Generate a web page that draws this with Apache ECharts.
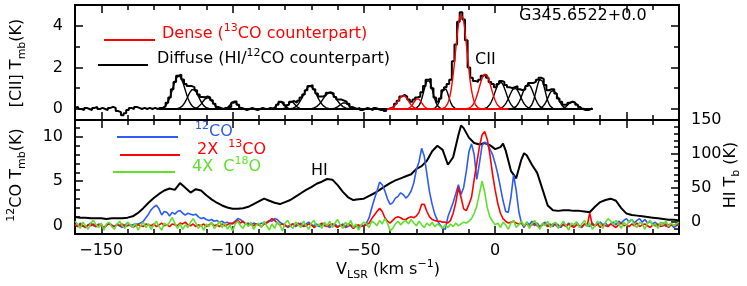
<!DOCTYPE html>
<html><head><meta charset="utf-8">
<script src="https://cdn.jsdelivr.net/npm/echarts@6/dist/echarts.min.js"></script>
<style>html,body{margin:0;padding:0;background:#fff}#c{width:747px;height:286px}</style>
</head><body><div id="c"></div>
<script>
// ---------- DATA ----------
// channel grid (km/s) for the sampled spectra
const channelStart = -160;
const channelWidth = 1;

// [CII] observed spectrum, Tmb (K), channels from -160 km/s
const ciiObserved = [
 0.05,0.1,0.0,-0.05,0.05,0.0,-0.05,0.05,0.1,0.0,0.05,0.0,-0.05,0.05,0.1,0.05,-0.1,-0.15,-0.3,-0.2,-0.05,0.05,0.0,0.1,0.05,0.0,0.05,0.0,0.05,0.0,0.05,0.0,0.05,
 0.05,0.12,0.3,0.55,0.95,1.3,1.6,1.65,1.42,1.2,1.1,1.1,1.05,0.9,0.7,0.58,0.56,0.6,0.55,0.42,0.25,0.1,0.05,
 0.0,0.05,0.0,0.1,0.3,0.38,0.2,0.05,0.0,-0.05,0.0,0.05,0.0,-0.05,0.0,0.05,0.0,0.0,0.05,0.0,
 0.08,0.2,0.35,0.3,0.18,0.2,0.35,0.38,0.3,0.4,0.55,0.7,0.9,1.1,1.15,0.95,0.75,0.6,0.6,0.68,0.78,0.8,0.75,0.58,0.45,0.45,0.4,0.35,0.25,0.1,0.05,0.0,0.05,-0.05,0.0,0.05,0.0,-0.05,0.05,0.0,-0.05,0.0,-0.1,0.0,
 0.05,0.1,0.25,0.4,0.6,0.68,0.6,0.45,0.35,0.45,0.55,0.6,0.8,1.1,1.4,1.45,1.0,0.55,0.35,0.5,0.9,1.05,1.2,1.4,2.3,3.1,4.2,4.65,4.3,3.3,2.0,
 1.5,1.35,1.3,1.4,1.6,1.65,1.5,1.3,1.2,1.05,1.2,1.35,1.3,1.15,1.05,1.0,1.05,1.1,
 0.95,0.9,0.95,1.1,1.25,1.25,1.3,1.4,1.5,1.45,1.15,0.9,0.95,0.95,0.75,0.5,0.35,0.2,0.2,0.3,0.35,0.3,0.2,0.1,0.0,-0.05,-0.05,0.0,0.05
];

// [CII] Gaussian fit components: centre (km/s), peak (K), FWHM (km/s)
const diffuseCentre = [-120.5,-115,-109.5,-99.5,-81.8,-77.5,-70.5,-63,-57.5,-25.5,-19.2,2,7.5,12.5,17.3,22,29.5];
const diffusePeak   = [1.6,0.95,0.55,0.38,0.35,0.35,1.1,0.78,0.3,1.4,1.0,1.3,1.0,1.2,1.45,0.9,0.35];
const diffuseFwhm   = [5.5,5,4.5,3,3,3,6,6,4,4,3.5,5,5,5,4,4.5,4];
const denseCentre = [-35,-29.5,-12.9,-3.8];
const densePeak   = [0.65,0.5,4.6,1.7];
const denseFwhm   = [4.5,3.5,5.1,5.3];

// 12CO Tmb (K), channels from -160 km/s
const co12 = [
 0.2,-0.1,0.3,0.0,-0.2,0.1,0.3,0.0,-0.1,0.2,0.1,-0.2,0.0,0.3,0.1,-0.1,0.2,0.0,-0.2,0.1,0.3,0.0,0.1,0.2,
 0.2,0.3,0.5,0.9,1.3,1.8,2.1,2.3,1.9,1.2, 1.6,1.5,1.1,1.5,1.3,1.6,1.7,1.4,1.2,1.4, 1.3,1.2,1.3,1.0,0.8,0.9,0.7,0.6,0.7,0.5,
 0.6,0.4,0.5,0.3,0.4,0.2,0.3,0.5,0.8,0.7, 0.4,0.2,0.3,0.1,0.3,0.2,0.1,0.3,0.2,0.4, 0.6,0.5,0.8,0.7,0.4,0.2,0.1,-0.2,0.0,0.2,
 -0.1,0.1,0.3,0.0,0.2,0.4,0.1,0.0,0.2,-0.1, 0.1,0.3,0.0,-0.2,0.1,0.2,-0.1,0.0,0.2,-0.2, -0.1,0.1,-0.3,0.0,-0.2,0.1,0.0,
 0.3,0.9,2.0,3.0,3.9,4.9,4.6,3.9,3.0,2.4,2.6,3.1,3.3,3.7,3.5,3.1,3.4,3.9,4.8,6.3,7.2,8.7,7.8,5.8,3.8,2.4,1.3,0.6,0.1,-0.3,
 -0.4,1.0,1.8,2.6,3.6,4.6,3.5,4.3,6.1,8.3,9.2,8.0,5.2,7.0,9.0,9.4,9.2,8.6,8.0,7.0,5.8,4.3,2.8,1.6,1.5,3.2,5.7,4.0,1.6,0.3,
 -0.2,0.4,0.1,0.5,0.0,0.3,-0.1,0.2,0.4,0.0, 0.2,-0.1,0.3,0.1,-0.2,0.2,0.0,0.3,-0.1,0.1, 0.4,0.0,-0.2,0.2,0.1,-0.1,0.3,0.0,0.2,0.4,
 0.1,0.3,0.0,0.2,0.4,0.1,0.5,0.3,0.6,0.8, 0.4,0.7,0.3,0.6,0.8,0.4,0.7,0.3,0.5,0.2, 0.4,0.0,0.2,0.3,-0.1,0.1,0.2,-0.2,0.0,0.1
];

// 2 x 13CO Tmb (K), channels from -160 km/s
const co13x2 = [
 0.1,-0.1,0.2,0.0,-0.2,0.1,0.0,0.2,-0.1,0.1,0.0,-0.2,0.1,0.2,0.0,-0.1,0.1,0.0,0.2,-0.1,0.0,0.1,-0.2,0.0,
 0.1,0.0,-0.1,0.2,0.1,0.0,0.2,-0.1,0.1,0.3, 0.0,0.1,-0.1,0.2,0.1,0.0,0.3,0.2,0.4,0.1, 0.0,0.2,-0.1,0.1,0.0,0.2,-0.1,0.1,0.3,0.0, 0.1,-0.1,0.2,0.0,0.1,0.3,0.2,
 0.4,0.6,0.3,0.5,0.2,0.1,0.3,0.0,0.2,0.1, -0.1,0.2,0.3,0.5,0.8,0.6,0.3,0.1,0.2,0.0, -0.1,0.1,0.2,0.0,0.3,0.1,-0.1,0.0,0.2,0.1,
 -0.2,0.0,0.1,0.3,0.0,-0.1,0.1,0.2,0.0,-0.2, 0.1,0.0,-0.1,0.2,0.0,-0.3,0.0,0.1,-0.1,0.0,
 0.1,0.3,0.8,1.2,1.6,1.95,1.6,0.9,0.5,0.3,0.6,0.9,1.0,0.9,0.7,0.7,0.9,1.0,0.9,1.1,1.5,2.4,2.4,1.6,1.0,0.7,0.6,0.5,0.5,0.4,
 0.4,0.3,0.6,1.4,2.6,4.3,3.2,1.9,1.7,2.4,3.2,5.2,7.0,8.9,10.2,10.6,9.7,8.0,5.8,4.0,2.5,1.4,0.8,0.5,0.3,0.4,0.5,0.3,0.2,0.3,
 0.0,0.2,-0.1,0.1,0.3,0.0,-0.2,0.1,0.2,-0.1, 0.0,0.2,0.1,-0.2,0.0,0.1,-0.1,0.2,0.0,-0.2, 0.1,0.0,-0.1,0.2,0.0,1.4,0.1,0.0,0.2,-0.2,
 0.1,0.0,-0.1,0.2,0.0,-0.2,0.1,0.3,0.0,0.1, -0.1,0.2,0.0,0.3,-0.1,0.1,0.2,0.0,-0.2,0.1, 0.0,0.2,-0.1,0.0,0.2,-0.2,0.1,0.0,0.2,0.1
];

// 4 x C18O Tmb (K), channels from -160 km/s
const c18ox4 = [
 0.5,0.2,-0.3,0.4,0.0,-0.4,0.3,0.6,0.1,-0.2, 0.3,-0.5,0.2,0.4,-0.1,-0.4,0.2,0.5,0.0,-0.3,
 0.4,0.1,-0.2,0.3,-0.5,0.0,0.4,-0.2,0.2,-0.4, 0.1,0.5,-0.1,-0.5,0.3,0.0,0.4,0.9,0.3,-0.3,
 0.2,-0.4,0.1,-0.2,0.4,0.8,0.3,-0.3,0.1,-0.5, 0.2,-0.1,0.4,-0.3,0.0,0.5,-0.2,0.3,-0.4,0.1,
 -0.6,0.2,0.5,0.0,-0.3,0.3,-0.1,0.4,-0.4,0.1, 0.3,-0.2,0.5,0.0,-0.5,0.2,-0.3,0.4,0.1,-0.6,
 0.3,0.6,0.0,-0.3,0.4,0.1,-0.2,0.5,0.0,-0.4, 0.3,0.6,-0.1,0.2,-0.3,0.4,0.0,0.5,-0.2,0.3,
 0.7,0.1,-0.3,0.4,0.0,0.6,-0.2,0.2,-0.5,0.1,0.4,
 0.2,-0.2,0.5,0.3,0.0,0.6,0.2,0.8,0.3,-0.6,-0.3,0.2,0.5,0.1,0.4,0.6,0.2,0.7,0.3,0.0,0.5,0.1,-0.2,0.3,0.0,0.4,-0.1,0.2,0.0,-0.3,
 0.1,-0.2,0.2,-0.1,0.3,0.0,0.2,0.4,0.3,0.5,0.8,1.4,2.2,3.6,5.0,3.8,2.0,1.0,0.5,0.1,0.3,-0.2,0.4,0.1,-0.4,0.3,0.6,-0.2,0.1,0.5,
 0.0,0.4,-0.3,0.2,0.6,0.1,-0.4,0.3,0.0,0.5, -0.2,0.2,0.4,-0.3,0.1,0.5,0.0,-0.5,0.3,0.1, 0.4,-0.2,0.2,0.6,-0.1,0.3,-0.4,0.0,0.5,0.2,
 -0.3,0.4,0.8,0.5,0.1,0.6,0.2,-0.3,0.4,0.0, 0.5,0.7,0.1,-0.2,0.4,0.2,-0.4,0.3,0.6,0.0, 0.2,-0.3,0.4,0.1,0.5,-0.1,0.3,0.0,0.2,0.4
];

// HI brightness temperature (K)
const hiVelocity = [-160,-158,-156,-154,-152,-150,-148,-146,-144,-142,-140,-138,-136,-134,-132,-130,-128,-126,-124,-122,-120,-118,-116,-114,-112,-110,-108,-106,-104,-102,-100,-98,-96,-94,-92,-90,-88,-86,-84,-82,-80,-78,-76,-74,-72,-70,-68,-66,-64,-62,-60,-58,-56,-54,-52,-50,-48,-46,-44,-42,-40,-38,-36,-34,-32,-30,-28,-26,-24,-22,-20,-18,-16,-14,-13,-12,-10,-8,-6,-4,-2,0,2,3,4,6,8,10,11,12,14,16,18,20,22,24,26,28,30,32,34,36,38,40,42,44,46,48,50,52,54,56,58,60,62,64,66,68,70];
const hiTb = [7,6,6,5,5,5,4,5,5,5,6,8,13,20,28,35,41,46,49,47,57,50,43,48,46,39,33,28,24,21,19,19,20,22,26,30,34,31,28,26,29,32,37,42,47,51,56,59,63,62,54,44,36,32,33,34,38,42,47,52,57,61,64,67,70,78,82,90,104,112,106,84,95,128,142,138,124,116,114,116,113,107,110,115,105,75,64,92,101,98,84,72,48,24,17,16,17,17,16,16,15,14,22,29,32,34,31,20,12,10,9,8,7,6,5,4,3,3,2];

// tick values
const xMinorTicks = [-150,-140,-130,-120,-110,-100,-90,-80,-70,-60,-50,-40,-30,-20,-10,0,10,20,30,40,50,60];
const xMajorTicks = [-150,-100,-50,0,50];
const ciiMinorTicks = [0,1,2,3,4];
const ciiMajorTicks = [0,2,4];
const coMinorTicks = [0,1,2,3,4,5,6,7,8,9,10,11];
const coMajorTicks = [0,5,10];
const hiMinorTicks = [-10,0,10,20,30,40,50,60,70,80,90,100,110,120,130,140];
const hiMajorTicks = [0,50,100,150];

// ---------- BUILD ----------
const FONT = 'DejaVu Sans';
const toPairs = arr => arr.map((t, i) => [channelStart + i * channelWidth, t]);
function gaussianComponent(c, a, f, v0, v1) {
  const pts = [];
  for (let v = v0; v <= v1 + 1e-9; v += 0.25) pts.push([v, a * Math.exp(-4 * Math.LN2 * (v - c) * (v - c) / (f * f))]);
  return pts;
}
const fmt = v => String(v).replace('-', '\u2212');
function xAx(grid, pos, ticks, len, labels) {
  return {type:'value', gridIndex:grid, position:pos, min:-160, max:70,
    axisLine:{show:false, onZero:false}, splitLine:{show:false},
    axisTick:{show:true, inside:true, length:len, customValues:ticks, lineStyle:{color:'#000', width:1.5}},
    axisLabel: labels ? {show:true, customValues:labels, formatter:fmt, fontFamily:FONT, fontSize:16, color:'#000', margin:9} : {show:false}};
}
function yAx(grid, pos, min, max, ticks, len, labels) {
  return {type:'value', gridIndex:grid, position:pos, min:min, max:max,
    axisLine:{show:false, onZero:false}, splitLine:{show:false},
    axisTick:{show:true, inside:true, length:len, customValues:ticks, lineStyle:{color:'#000', width:1.5}},
    axisLabel: labels ? {show:true, customValues:labels, formatter:fmt, fontFamily:FONT, fontSize:16, color:'#000', margin:12} : {show:false}};
}
const ciiMin = -0.53, ciiMax = 5.0, coMin = -0.93, coMax = 11.88, hiMin = -18.1, hiMax = 150;

const series = [];
series.push({type:'line', xAxisIndex:0, yAxisIndex:0, data:toPairs(ciiObserved), step:'middle', showSymbol:false,
  lineStyle:{color:'#000', width:2}, z:3, animation:false});
diffuseCentre.forEach((c, i) => series.push({type:'line', xAxisIndex:0, yAxisIndex:0, showSymbol:false, animation:false,
  data:gaussianComponent(c, diffusePeak[i], diffuseFwhm[i], -128, 37), lineStyle:{color:'#000', width:1.4}, z:4}));
denseCentre.forEach((c, i) => series.push({type:'line', xAxisIndex:0, yAxisIndex:0, showSymbol:false, animation:false,
  data:gaussianComponent(c, densePeak[i], denseFwhm[i], -41, 5), lineStyle:{color:'#ff0000', width:1.4}, z:5}));

series.push({type:'line', xAxisIndex:4, yAxisIndex:6, data:hiVelocity.map((v,i)=>[v,hiTb[i]]), showSymbol:false, animation:false,
  lineStyle:{color:'#000', width:2}, z:3});
series.push({type:'line', xAxisIndex:4, yAxisIndex:4, data:toPairs(co12), showSymbol:false, animation:false,
  lineStyle:{color:'#2d5cf5', width:1.6}, z:4});
series.push({type:'line', xAxisIndex:4, yAxisIndex:4, data:toPairs(co13x2), showSymbol:false, animation:false,
  lineStyle:{color:'#ff0000', width:1.6}, z:5});
series.push({type:'line', xAxisIndex:4, yAxisIndex:4, data:toPairs(c18ox4), showSymbol:false, animation:false,
  lineStyle:{color:'#5fe02a', width:1.6}, z:6});

const richBase = (col) => ({
  n:{fontFamily:FONT, fontSize:16, lineHeight:22, fill:col},
  s:{fontFamily:FONT, fontSize:11, fill:col, verticalAlign:'top'},
  b:{fontFamily:FONT, fontSize:11, fill:col, verticalAlign:'bottom'}
});
function txt(x, y, text, col, opts) {
  opts = opts || {};
  return {type:'text', x:x, y:y, rotation:opts.rot || 0, z:100,
    style:{text:text, rich:richBase(col), fill:col, font:'16px ' + FONT,
      textAlign:opts.align || 'left', textVerticalAlign:'middle'}};
}
function seg(x1, y, x2, col) {
  return {type:'line', z:100, shape:{x1:x1, y1:y, x2:x2, y2:y}, style:{stroke:col, lineWidth:2}};
}

const option = {
  backgroundColor:'#fff',
  animation:false,
  grid:[
    {left:75, top:5, width:604, height:115, show:true, borderColor:'#000', borderWidth:2, backgroundColor:'transparent'},
    {left:75, top:120, width:604, height:114, show:true, borderColor:'#000', borderWidth:2, backgroundColor:'transparent'}
  ],
  xAxis:[
    xAx(0,'bottom',xMajorTicks,8,null), xAx(0,'bottom',xMinorTicks,5,null),
    xAx(0,'top',xMajorTicks,8,null), xAx(0,'top',xMinorTicks,5,null),
    xAx(1,'bottom',xMajorTicks,8,xMajorTicks), xAx(1,'bottom',xMinorTicks,5,null),
    xAx(1,'top',xMajorTicks,8,null), xAx(1,'top',xMinorTicks,5,null)
  ],
  yAxis:[
    yAx(0,'left',ciiMin,ciiMax,ciiMajorTicks,8,ciiMajorTicks), yAx(0,'left',ciiMin,ciiMax,ciiMinorTicks,5,null),
    yAx(0,'right',ciiMin,ciiMax,ciiMajorTicks,8,null), yAx(0,'right',ciiMin,ciiMax,ciiMinorTicks,5,null),
    yAx(1,'left',coMin,coMax,coMajorTicks,8,coMajorTicks), yAx(1,'left',coMin,coMax,coMinorTicks,5,null),
    yAx(1,'right',hiMin,hiMax,hiMajorTicks,8,hiMajorTicks), yAx(1,'right',hiMin,hiMax,hiMinorTicks,5,null)
  ],
  series:series,
  graphic:[
    seg(104,40,155,'#ff0000'),
    txt(162,34,'{n|Dense (}{s|13}{n|CO counterpart)}','#ff0000'),
    seg(98,65,148,'#000'),
    txt(157,59,'{n|Diffuse (HI/}{s|12}{n|CO counterpart)}','#000'),
    txt(475,60,'{n|CII}','#000'),
    txt(519,16,'{n|G345.6522+0.0}','#000'),
    seg(117,137,178,'#2d5cf5'),
    txt(195,132,'{s|12}{n|CO}','#2d5cf5'),
    seg(120,155,180,'#ff0000'),
    txt(197,150,'{n|2X  }{s|13}{n|CO}','#ff0000'),
    seg(113,172,175,'#5fe02a'),
    txt(192,167,'{n|4X  C}{s|18}{n|O}','#5fe02a'),
    txt(311,171,'{n|HI}','#000'),
    txt(388,270,'{n|V}{b|LSR}{n| (km s}{s|\u22121}{n|)}','#000',{align:'center'}),
    txt(17,63,'{n|[CII] T}{b|mb}{n|(K)}','#000',{align:'center', rot:Math.PI/2}),
    txt(17,175,'{s|12}{n|CO T}{b|mb}{n|(K)}','#000',{align:'center', rot:Math.PI/2}),
    txt(731,175,'{n|HI T}{b|b}{n| (K)}','#000',{align:'center', rot:Math.PI/2})
  ]
};
const chart = echarts.init(document.getElementById('c'), null, {renderer:'canvas'});
chart.setOption(option);
</script></body></html>
